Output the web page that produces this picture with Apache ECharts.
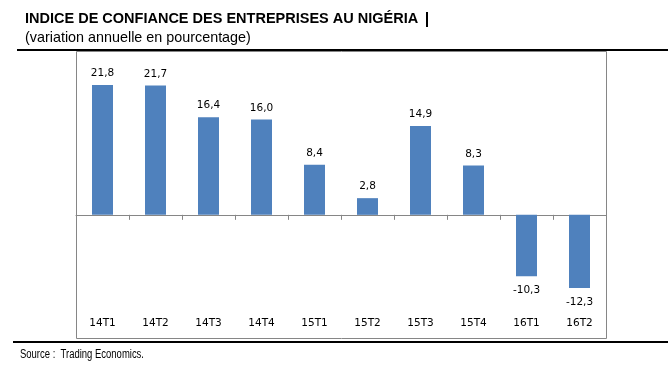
<!DOCTYPE html>
<html>
<head>
<meta charset="utf-8">
<script src="https://cdn.jsdelivr.net/npm/echarts@6/dist/echarts.min.js"></script>
<style>html,body{margin:0;padding:0;background:#fff}#c{width:668px;height:387px}</style>
</head>
<body>
<div id="c"></div>
<script>
const categories = ['14T1','14T2','14T3','14T4','15T1','15T2','15T3','15T4','16T1','16T2'];
const values = [21.8, 21.7, 16.4, 16.0, 8.4, 2.8, 14.9, 8.3, -10.3, -12.3];
const titleText = 'INDICE DE CONFIANCE DES ENTREPRISES AU NIGÉRIA';
const subtitleText = '(variation annuelle en pourcentage)';
const sourceText = 'Source :  Trading Economics.';

const chart = echarts.init(document.getElementById('c'), null, {renderer: 'canvas'});
const labelFont = {fontFamily: '"DejaVu Sans"', fontSize: 10.5, color: '#000'};
chart.setOption({
  animation: false,
  grid: {left: 76, right: 62, top: 51, height: 283},
  xAxis: [
    {type: 'category', data: categories, position: 'bottom',
     axisLine: {onZero: true, lineStyle: {color: '#868686', width: 1}},
     axisTick: {show: true, length: 5, lineStyle: {color: '#868686'}},
     axisLabel: {show: false}, splitLine: {show: false}},
    {type: 'category', data: categories, position: 'bottom',
     axisLine: {show: false, onZero: false}, axisTick: {show: false},
     axisLabel: Object.assign({inside: true, margin: 5}, labelFont), splitLine: {show: false}}
  ],
  yAxis: {type: 'value', min: -20, max: 27.5, show: false, splitLine: {show: false}},
  series: [{
    type: 'bar', xAxisIndex: 0, barWidth: 21,
    itemStyle: {color: '#4F81BD'},
    data: values.map(v => ({value: v, label: {position: v < 0 ? 'bottom' : 'top', distance: v < 0 ? 9 : 6}})),
    label: Object.assign({show: true, formatter: p => p.value.toFixed(1).replace('.', ',')}, labelFont)
  }],
  graphic: [
    {type: 'text', left: 25, top: 11, style: {text: titleText, font: 'bold 14.5px "Liberation Sans"', fill: '#000'}},
    {type: 'rect', shape: {x: 426, y: 12, width: 2, height: 15}, style: {fill: '#000'}},
    {type: 'text', x: 25, y: 30, style: {text: subtitleText, font: '14.5px "Liberation Sans"', fill: '#000'}, scaleX: 0.99},
    {type: 'rect', shape: {x: 17, y: 49, width: 651, height: 2}, style: {fill: '#000'}},
    {type: 'rect', shape: {x: 76.5, y: 51.5, width: 530, height: 287}, style: {fill: 'none', stroke: '#868686', lineWidth: 1}, z: -1},
    {type: 'rect', shape: {x: 13, y: 341, width: 655, height: 2}, style: {fill: '#000'}},
    {type: 'text', x: 20, y: 349, scaleX: 0.79, style: {text: sourceText, font: '12px "Liberation Sans"', fill: '#000'}}
  ]
});
</script>
</body>
</html>
